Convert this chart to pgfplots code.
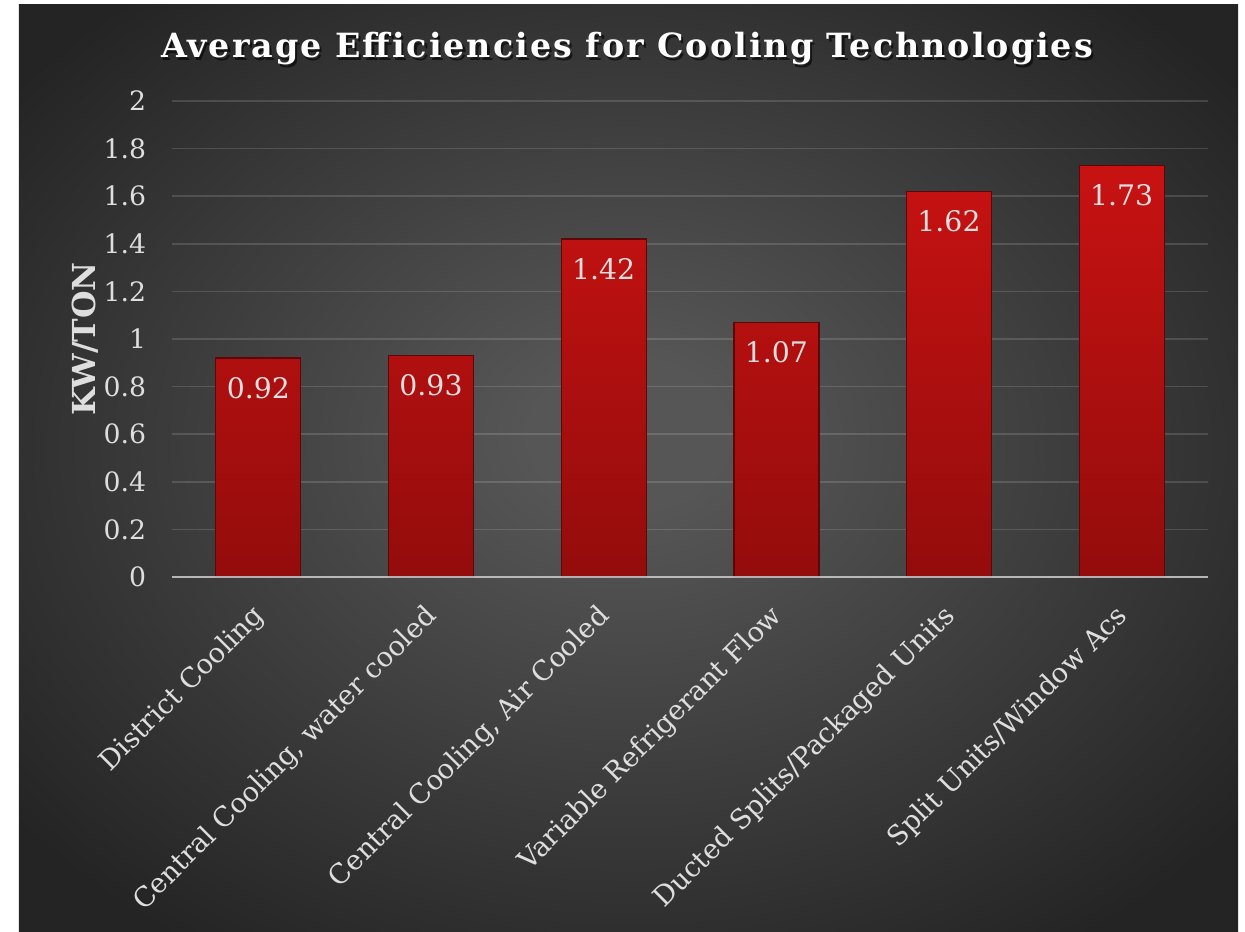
\documentclass[border=0pt]{standalone}
\usepackage{pgfplots}
\pgfplotsset{compat=1.18}
\usepackage{fontspec}
\setmainfont{DejaVu Serif}
\newfontfamily\titlefont[LetterSpace=6]{DejaVu Serif}
\definecolor{bgin}{RGB}{86,86,86}
\definecolor{bgout}{RGB}{36,36,36}
\definecolor{bartop}{RGB}{200,18,18}
\definecolor{barbot}{RGB}{148,12,12}
\definecolor{baredge}{RGB}{90,8,8}
\definecolor{lbl}{RGB}{222,222,222}
\pgfdeclareradialshading{bgshade}{\pgfpoint{0bp}{2bp}}{color(0bp)=(bgin); color(4bp)=(bgin); color(32bp)=(bgout); color(50bp)=(bgout)}
\begin{document}
\begin{tikzpicture}
\path[use as bounding box, fill=white] (-103.2pt,-213pt) rectangle (643.8pt,346.2pt);
\fill[shading=bgshade] (-91.8pt,-213pt) rectangle (639.6pt,343.2pt);
\node[font=\titlefont\bfseries\fontsize{20}{24}\selectfont, text=black, opacity=0.6] at (274.4pt,315.4pt) {Average Efficiencies for Cooling Technologies};
\node[font=\titlefont\bfseries\fontsize{20}{24}\selectfont, text=white] at (273pt,316.8pt) {Average Efficiencies for Cooling Technologies};
\begin{axis}[
  at={(0,0)}, anchor=south west, scale only axis,
  width=621.6pt, height=285.6pt,
  xmin=-0.5, xmax=5.5, ymin=0, ymax=2,
  ytick={0,0.2,0.4,0.6,0.8,1,1.2,1.4,1.6,1.8,2},
  xtick=data,
  xticklabels={District Cooling, {Central Cooling, water cooled}, {Central Cooling, Air Cooled}, Variable Refrigerant Flow, Ducted Splits/Packaged Units, Split Units/Window Acs},
  /pgf/number format/.cd, fixed, precision=1, assume math mode=true, /pgfplots/.cd,
  major tick length=0pt,
  axis line style={draw=none},
  ymajorgrids, grid style={white, opacity=0.14, line width=0.9pt},
  yticklabel style={font=\fontsize{16}{19}\selectfont, text=lbl, anchor=east, xshift=-12pt},
  xticklabel style={font=\fontsize{16.4}{19}\selectfont, text=lbl, rotate=45, anchor=east, xshift=-10.7pt, yshift=-15.7pt},
  ylabel={KW/TON},
  ylabel style={font=\bfseries\fontsize{19}{22}\selectfont, text=lbl, at={(axis description cs:-0.084,0.5)}, anchor=center},
  ybar, bar width=51pt,
  nodes near coords={\pgfmathprintnumber[fixed,fixed zerofill,precision=2]{\pgfplotspointmeta}},
  every node near coord/.append style={anchor=center, yshift=-18pt, text=lbl, font=\fontsize{17}{20}\selectfont},
]
\addplot[draw=baredge, line width=0.8pt, top color=bartop, bottom color=barbot] coordinates {(0,0.92) (1,0.93) (2,1.42) (3,1.07) (4,1.62) (5,1.73)};
\draw[line width=1.4pt, white!76!black, opacity=0.9] (axis cs:-0.5,0) -- (axis cs:5.5,0);
\end{axis}
\end{tikzpicture}
\end{document}
